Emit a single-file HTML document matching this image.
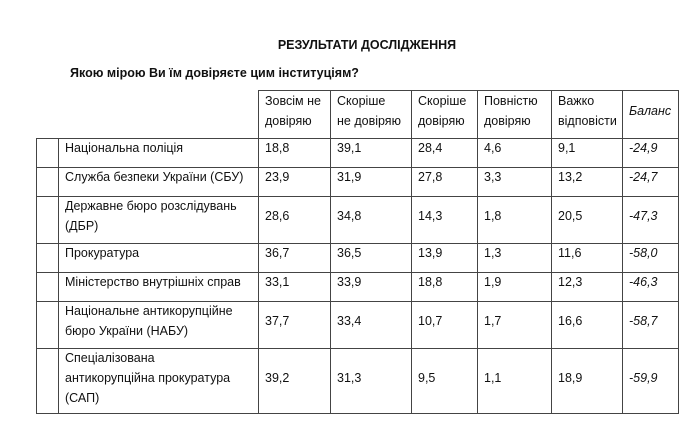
<!DOCTYPE html>
<html><head><meta charset="utf-8"><style>
body{margin:0;background:#fff;}
svg text{font-family:"Liberation Sans",sans-serif;font-size:12.5px;fill:#111;}
</style></head><body>
<svg width="690" height="425" xmlns="http://www.w3.org/2000/svg">
<text x="367" y="49" text-anchor="middle" font-weight="bold" style="font-size:12.5px">РЕЗУЛЬТАТИ ДОСЛІДЖЕННЯ</text>
<text x="70" y="77" font-weight="bold" style="font-size:12.5px">Якою мірою Ви їм довіряєте цим інституціям?</text>
<g stroke="#444" stroke-width="1" fill="none">
<path d="M258 90.5H678.5M36 138.5H678.5M36 167.5H678.5M36 196.5H678.5M36 243.5H678.5M36 272.5H678.5M36 301.5H678.5M36 348.5H678.5M36 413.5H678.5"/>
<path d="M36.5 138V414M58.5 138V414M258.5 90V414M330.5 90V414M411.5 90V414M477.5 90V414M551.5 90V414M622.5 90V414M678.5 90V414"/>
</g>
<g>
<text x="265" y="105">Зовсім не</text><text x="265" y="125">довіряю</text>
<text x="337" y="105">Скоріше</text><text x="337" y="125">не довіряю</text>
<text x="418" y="105">Скоріше</text><text x="418" y="125">довіряю</text>
<text x="484" y="105">Повністю</text><text x="484" y="125">довіряю</text>
<text x="558" y="105">Важко</text><text x="558" y="125">відповісти</text>
<text x="629" y="115" font-style="italic">Баланс</text>
</g>
<g>
<text x="65" y="152">Національна поліція</text>
<text x="65" y="181">Служба безпеки України (СБУ)</text>
<text x="65" y="210">Державне бюро розслідувань</text><text x="65" y="230">(ДБР)</text>
<text x="65" y="257">Прокуратура</text>
<text x="65" y="286">Міністерство внутрішніх справ</text>
<text x="65" y="315">Національне антикорупційне</text><text x="65" y="335">бюро України (НАБУ)</text>
<text x="65" y="362">Спеціалізована</text><text x="65" y="382">антикорупційна прокуратура</text><text x="65" y="402">(САП)</text>
</g>
<g>
<text x="265" y="152">18,8</text><text x="337" y="152">39,1</text><text x="418" y="152">28,4</text><text x="484" y="152">4,6</text><text x="558" y="152">9,1</text><text x="629" y="152" font-style="italic">-24,9</text>
<text x="265" y="181">23,9</text><text x="337" y="181">31,9</text><text x="418" y="181">27,8</text><text x="484" y="181">3,3</text><text x="558" y="181">13,2</text><text x="629" y="181" font-style="italic">-24,7</text>
<text x="265" y="220">28,6</text><text x="337" y="220">34,8</text><text x="418" y="220">14,3</text><text x="484" y="220">1,8</text><text x="558" y="220">20,5</text><text x="629" y="220" font-style="italic">-47,3</text>
<text x="265" y="257">36,7</text><text x="337" y="257">36,5</text><text x="418" y="257">13,9</text><text x="484" y="257">1,3</text><text x="558" y="257">11,6</text><text x="629" y="257" font-style="italic">-58,0</text>
<text x="265" y="286">33,1</text><text x="337" y="286">33,9</text><text x="418" y="286">18,8</text><text x="484" y="286">1,9</text><text x="558" y="286">12,3</text><text x="629" y="286" font-style="italic">-46,3</text>
<text x="265" y="325">37,7</text><text x="337" y="325">33,4</text><text x="418" y="325">10,7</text><text x="484" y="325">1,7</text><text x="558" y="325">16,6</text><text x="629" y="325" font-style="italic">-58,7</text>
<text x="265" y="382">39,2</text><text x="337" y="382">31,3</text><text x="418" y="382">9,5</text><text x="484" y="382">1,1</text><text x="558" y="382">18,9</text><text x="629" y="382" font-style="italic">-59,9</text>
</g>
</svg>
</body></html>
